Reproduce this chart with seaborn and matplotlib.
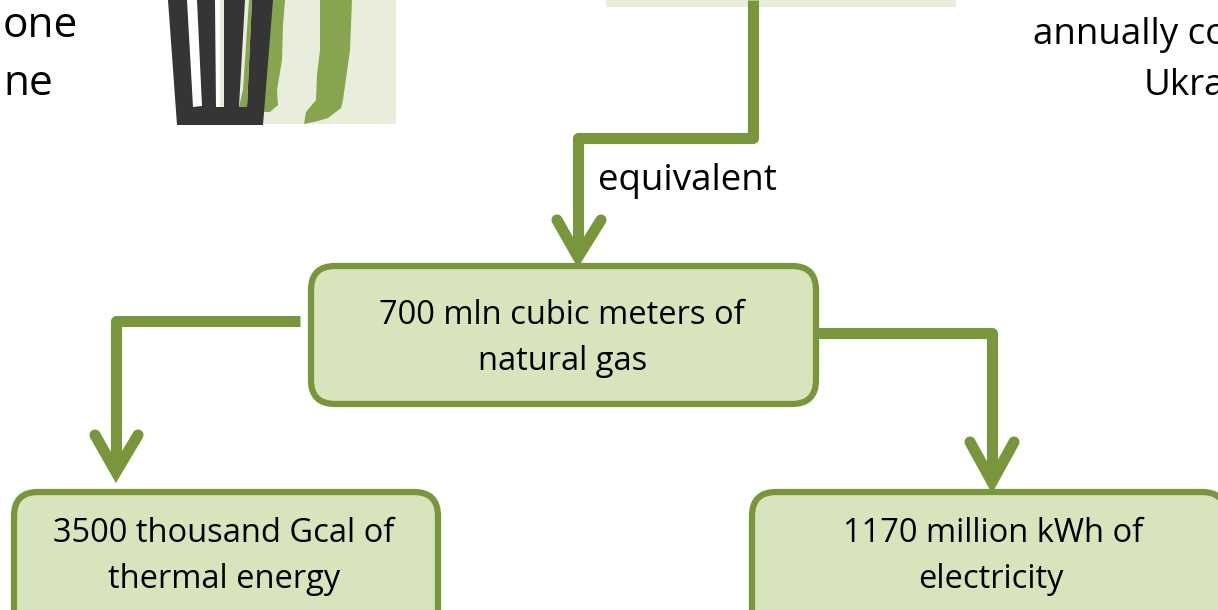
import matplotlib
matplotlib.use("Agg")
import matplotlib.pyplot as plt
import seaborn as sns
from matplotlib.patches import FancyBboxPatch, Polygon, Rectangle

# cajas del diagrama
caja_x0 = [311, 14, 752]
caja_y0 = [266, 492, 492]
caja_x1 = [816, 438, 1226]
caja_y1 = [404, 640, 640]

# textos dentro de las cajas
lineas_texto = ["700 mln cubic meters of", "natural gas",
                "3500 thousand Gcal of", "thermal energy",
                "1170 million kWh of", "electricity"]
lineas_x = [562, 563, 224, 224, 993, 991]
lineas_y = [316, 361, 534, 580, 534, 580]

# textos sueltos
sueltos_texto = ["one", "ne", "annually co", "Ukra", "equivalent"]
sueltos_x = [3, 3, 1033, 1144, 598]
sueltos_y = [26, 84, 35, 86, 181]
sueltos_pt = [30.5, 30.5, 26.5, 26.5, 26.5]

# conectores
conector_x = [[753, 753, 578, 578], [300, 116, 116], [816, 992, 992]]
conector_y = [[0, 138, 138, 256], [321, 321, 470], [333, 333, 480]]
flecha_x = [[557, 578, 601], [95, 116, 138], [970, 992, 1014]]
flecha_y = [[220, 257, 220], [435, 472, 435], [442, 482, 442]]

VERDE = "#7a963c"
RELLENO = "#d8e4bc"
PALIDO = "#e8eddc"
FRANJA = "#87a44f"
GRIS = "#353535"

sns.set_theme(style="white")
plt.rcParams["font.family"] = ["Open Sans", "DejaVu Sans"]

fig, ax = plt.subplots(figsize=(12.18, 6.10), dpi=100)
ax.set_position([0, 0, 1, 1])
ax.set_xlim(0, 1218)
ax.set_ylim(610, 0)
ax.axis("off")

# restos de la imagen de arriba
ax.add_patch(Rectangle((606, 0), 350, 7, color=PALIDO, lw=0))
ax.add_patch(Rectangle((220, 0), 176, 124, color=PALIDO, lw=0))
ax.add_patch(Polygon([(262, 0), (285, 0), (283, 25), (282, 60), (277, 90), (278, 105), (270, 112), (260, 112)],
                     color=FRANJA, lw=0))
ax.add_patch(Polygon([(320, 0), (352, 0), (350, 50), (343, 100), (341, 108), (328, 118), (318, 121), (304, 124),
                      (306, 112), (316, 100), (317, 75), (320, 50)], color=FRANJA, lw=0))
ax.add_patch(Polygon([(168, 0), (273, 0), (263, 125), (177, 125)], color=GRIS, lw=0))
ax.add_patch(Polygon([(187, 0), (197, 0), (202, 106), (193, 107)], color="white", lw=0))
ax.add_patch(Polygon([(215, 0), (220, 0), (220, 107), (216, 107)], color="white", lw=0))
ax.add_patch(Polygon([(220, 0), (224, 0), (224, 107), (220, 107)], color=PALIDO, lw=0))
ax.add_patch(Polygon([(245, 0), (252, 0), (247, 107), (239, 107)], color=PALIDO, lw=0))
ax.add_patch(Polygon([(249, 0), (252, 0), (247, 107), (239, 107), (243, 90)], color=FRANJA, lw=0))

for x0, y0, x1, y1 in zip(caja_x0, caja_y0, caja_x1, caja_y1):
    ax.add_patch(FancyBboxPatch((x0 + 24, y0 + 24), x1 - x0 - 48, y1 - y0 - 48,
                                boxstyle="round,pad=24,rounding_size=24",
                                fc=RELLENO, ec=VERDE, lw=4.5))

for xs, ys in zip(conector_x, conector_y):
    sns.lineplot(x=xs, y=ys, sort=False, estimator=None, color=VERDE, linewidth=8,
                 solid_joinstyle="round", solid_capstyle="butt", ax=ax)
for xs, ys in zip(flecha_x, flecha_y):
    sns.lineplot(x=xs, y=ys, sort=False, estimator=None, color=VERDE, linewidth=8,
                 solid_joinstyle="miter", solid_capstyle="round", ax=ax)

for t, x, y in zip(lineas_texto, lineas_x, lineas_y):
    ax.text(x, y, t, ha="center", va="center", fontsize=23.5, color="black")
for t, x, y, pt in zip(sueltos_texto, sueltos_x, sueltos_y, sueltos_pt):
    ax.text(x, y, t, ha="left", va="center", fontsize=pt, color="black")

fig.savefig("out.png", dpi=100)
plt.close()
